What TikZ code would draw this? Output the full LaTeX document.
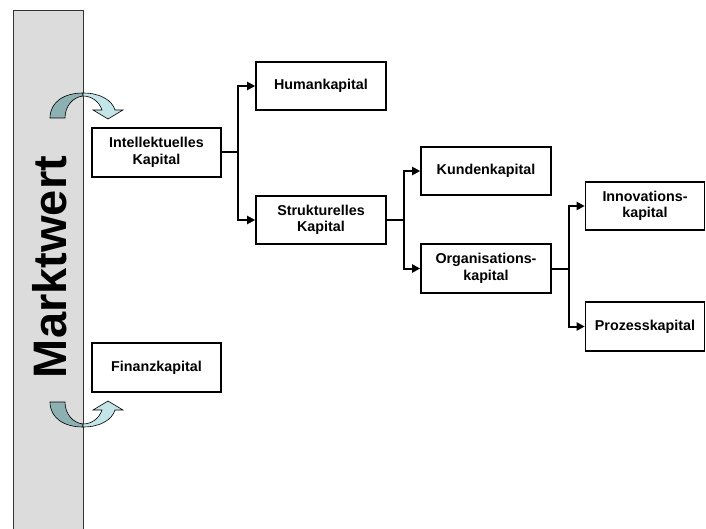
\documentclass[tikz,border=0pt]{standalone}
\usepackage{fontspec}
\setmainfont{Liberation Sans}
\usetikzlibrary{arrows.meta}
\definecolor{bargray}{HTML}{DCDCDC}
\definecolor{arrdark}{HTML}{8DB0B2}
\definecolor{arrlight}{HTML}{C3E5E7}
\tikzset{
  box/.style={draw=black, line width=1.6pt, fill=white, align=center,
    font=\fontsize{14.3}{16.5}\selectfont\bfseries, inner sep=2pt},
  conn/.style={line width=2pt, -{Triangle[length=8pt,width=8pt]}},
  curvearrow/.style={draw=black, line width=0.6pt}
}
\begin{document}
\begin{tikzpicture}[x=1pt,y=-1pt]
\useasboundingbox (0,0) rectangle (706,529);
\clip (0,0) rectangle (706,529);
% Marktwert bar
\draw[fill=bargray, draw=black!80, line width=0.9pt] (13,10) rectangle (83,540);
\node[rotate=90, font=\fontsize{47}{50}\selectfont\bfseries] (mw) at (50,267) {Marktwert};
% boxes
\node[box, minimum width=129pt, minimum height=49pt] (intel) at (156.5,152.5) {Intellektuelles\\Kapital};
\node[box, minimum width=129pt, minimum height=49pt] (fin) at (156.5,367.5) {Finanzkapital};
\node[box, minimum width=130pt, minimum height=48pt] (hum) at (321,86) {Humankapital};
\node[box, minimum width=130pt, minimum height=48pt] (str) at (321,220) {Strukturelles\\Kapital};
\node[box, minimum width=130pt, minimum height=48pt] (kun) at (486,171) {Kundenkapital};
\node[box, minimum width=130pt, minimum height=49pt] (org) at (486,268.5) {Organisations-\\kapital};
\node[box, minimum width=119pt, minimum height=48pt] (inn) at (645,206) {Innovations-\\kapital};
\node[box, minimum width=119pt, minimum height=49pt] (pro) at (645,326.5) {Prozesskapital};
% connectors
\draw[conn] (intel.east) -- ++(16,0) |- (hum.west);
\draw[conn] (intel.east) -- ++(16,0) |- (str.west);
\draw[conn] (str.east) -- ++(17,0) |- (kun.west);
\draw[conn] (str.east) -- ++(17,0) |- (org.west);
\draw[conn] (org.east) -- ++(17,0) |- (inn.west);
\draw[conn] (org.east) -- ++(17,0) |- (pro.west);
% curved arrows
\foreach \sh/\sc in {0/1, 520/-1}{
\begin{scope}[shift={(0,\sh)}, yscale=\sc]
\draw[curvearrow, fill=arrdark] (50,118) .. controls (50,102) and (64,93) .. (83,93)
  -- (83,96) .. controls (73,97) and (65,106) .. (65,118) -- cycle;
\draw[curvearrow, fill=arrlight] (83,93) .. controls (100,93) and (112,100) .. (115,110)
  -- (123,110) -- (108,119) -- (93,110) -- (102,110)
  .. controls (99,101) and (91,96) .. (83,96) -- cycle;
\end{scope}
}
\end{tikzpicture}
\end{document}
